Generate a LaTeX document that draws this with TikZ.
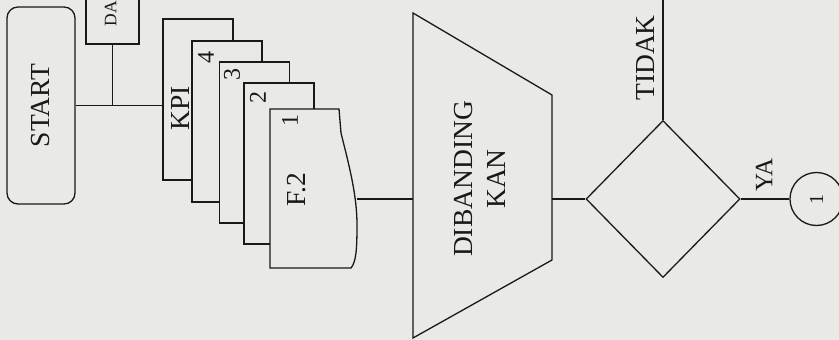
\documentclass[tikz,border=0pt]{standalone}
\usepackage{fontspec}
\setmainfont{Liberation Serif}
\usetikzlibrary{shapes.geometric}
\definecolor{paper}{RGB}{233,233,230}
\definecolor{ink}{RGB}{25,25,25}

\begin{document}
\begin{tikzpicture}[x=1pt,y=-1pt,
  line/.style={draw=ink,line width=1.3pt},
  box/.style={line,fill=paper,inner sep=0pt},
  sheet/.style={box,minimum width=70pt,minimum height=161pt},
  lbl/.style={inner sep=0pt,text=ink,font=\fontsize{27.5}{33}\selectfont},
  num/.style={inner sep=0pt,text=ink,font=\fontsize{24}{24}\selectfont}]
\useasboundingbox (0,0) rectangle (839,340);
\fill[paper] (0,0) rectangle (839,340);
\clip (0,0) rectangle (839,340);

% start terminal
\node[box,lbl,rounded corners=11pt,minimum width=68pt,minimum height=197pt] (start) at (41,105.5) {\rotatebox{90}{START}};

% data box entering from the top
\node[box,minimum width=53pt,minimum height=80pt] (data) at (112.5,4) {};
\node[lbl,font=\fontsize{17.5}{17.5}\selectfont,anchor=south] (datalbl) at (110.5,26.5) {\rotatebox{90}{DA}};

% stack of documents
\node[sheet] (kpi) at (198,99.5) {};
\node[lbl] (kpilbl) at (180,108) {\rotatebox{90}{KPI}};
\node[sheet] (s4) at (227,121.5) {};
\node[num] (n4) at (206,57) {\rotatebox{90}{4}};
\node[sheet] (s3) at (254.5,142.5) {};
\node[num] (n3) at (232,74) {\rotatebox{90}{3}};
\node[sheet] (s2) at (279,163.5) {};
\node[num] (n2) at (258,97) {\rotatebox{90}{2}};
% front sheet with the wavy edge
\draw[box] (270,109) -- (339,109) -- (341,133)
  .. controls (349,165) and (357,195) .. (357,225)
  .. controls (357,250) and (356,262) .. (351,268) -- (270,268) -- cycle;
\coordinate (f2out) at (356.5,199);
\node[num] (n1) at (290,120) {\rotatebox{90}{1}};
\node[lbl] (f2lbl) at (297,190) {\rotatebox{90}{F.2}};

% manual operation (trapezoid)
\draw[box] (413,13) -- (552,95) -- (552,260) -- (413,338) -- cycle;
\coordinate (cmpin) at (413,199);
\coordinate (cmpout) at (552,199);
\node[lbl] (cmp) at (482,179) {\rotatebox{90}{\begin{tabular}{@{}c@{}}DIBANDING\\KAN\end{tabular}}};

% decision and off-page connector
\node[line,diamond,minimum width=154pt,minimum height=157pt,inner sep=0pt] (dec) at (663,199) {};
\node[line,circle,minimum size=53pt,inner sep=0pt,text=ink,font=\fontsize{20}{20}\selectfont] (conn) at (816.5,199) {\rotatebox{90}{1}};
\coordinate (noend) at (663,-5);

% connectors
\draw[line] (start.east) -- (kpi.west |- start.east);
\draw[line] (data.south) -- (data.south |- start.east);
\draw[line] (f2out) -- (cmpin);
\draw[line] (cmpout) -- (dec.west);
\draw[line] (dec.north) -- (noend);
\draw[line] (dec.east) -- (conn.west);

% branch labels
\node[lbl] (tidak) at (645,58) {\rotatebox{90}{TIDAK}};
\node[lbl,font=\fontsize{25}{25}\selectfont] (ya) at (764,175) {\rotatebox{90}{YA}};
\end{tikzpicture}
\end{document}
